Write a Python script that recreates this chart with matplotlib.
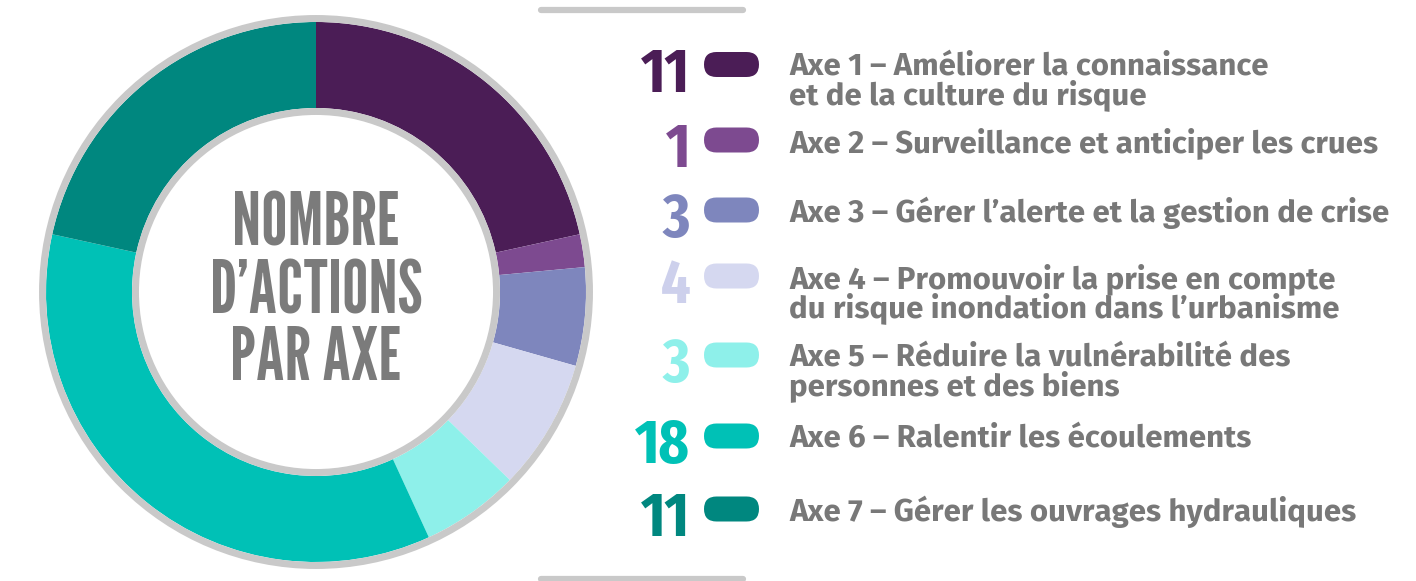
import matplotlib
matplotlib.use("Agg")
import matplotlib.pyplot as plt
from matplotlib.patches import Circle, FancyBboxPatch

# actions per axis
counts = [11, 1, 3, 4, 3, 18, 11]
colors = ["#4b1d56", "#7d4a90", "#7e86bd", "#d5d8f0", "#8ef0ea", "#00c1b6", "#00877f"]
num_colors = ["#4b1d56", "#7d4a90", "#7e86bd", "#cdd0ec", "#8ef0ea", "#00c1b6", "#00877f"]
labels = [
    "Axe 1 – Améliorer la connaissance\net de la culture du risque",
    "Axe 2 – Surveillance et anticiper les crues",
    "Axe 3 – Gérer l’alerte et la gestion de crise",
    "Axe 4 – Promouvoir la prise en compte\ndu risque inondation dans l’urbanisme",
    "Axe 5 – Réduire la vulnérabilité des\npersonnes et des biens",
    "Axe 6 – Ralentir les écoulements",
    "Axe 7 – Gérer les ouvrages hydrauliques",
]
center_lines = ["NOMBRE", "D’ACTIONS", "PAR AXE"]

W, H = 1416, 581
GREY = "#c9c9c9"
TEXT = "#787878"


def Y(y):
    # top-down pixel row to axes coordinate
    return H - y


fig = plt.figure(figsize=(W / 100, H / 100), dpi=100)
ax = fig.add_axes([0, 0, 1, 1])

cx, cy = 316, 292
ax.pie(counts, colors=colors, startangle=90, counterclock=False,
       radius=270, center=(cx, Y(cy)),
       wedgeprops=dict(width=86, linewidth=0))
ax.add_patch(Circle((cx, Y(cy)), 273.5, fill=False, ec=GREY, lw=5.0, zorder=3))
ax.add_patch(Circle((cx, Y(cy)), 180.5, fill=False, ec=GREY, lw=5.0, zorder=3))

for line, base in zip(center_lines, (245, 313, 380)):
    ax.text(cx, Y(base), line, ha="center", va="baseline", color="#7b7b7b",
            family="League Gothic", fontsize=53)

# separators above and below the legend
for yy in (10, 579):
    ax.plot([541, 743], [Y(yy), Y(yy)], color=GREY, lw=4.5,
            solid_capstyle="round")

pill_y = [64.5, 140, 210, 276, 355, 436, 509]
for n, col, ncol, label, py in zip(counts, colors, num_colors, labels, pill_y):
    ax.add_patch(FancyBboxPatch((704, Y(py) - 12.5), 55, 25,
                                boxstyle="round,pad=0,rounding_size=12.5",
                                fc=col, ec="none"))
    ax.text(690, Y(py + 27), str(n), ha="right", va="baseline", color=ncol,
            family="Fira Sans Extra Condensed", fontweight="bold", fontsize=45)
    ax.text(789, Y(py - 13), label, ha="left", va="top", color=TEXT,
            family="Fira Sans", fontweight="bold", fontsize=22.5,
            linespacing=0.91)

ax.set_xlim(0, W)
ax.set_ylim(0, H)
ax.set_aspect("equal")
ax.axis("off")

fig.savefig("out.png", dpi=100, facecolor="white")
